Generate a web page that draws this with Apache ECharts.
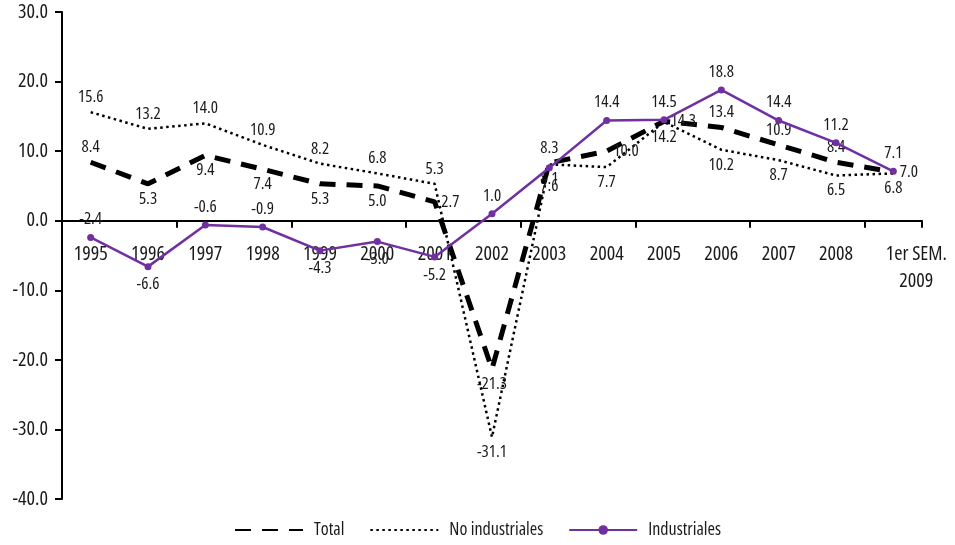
<!DOCTYPE html>
<html>
<head>
<meta charset="utf-8">
<script src="https://cdn.jsdelivr.net/npm/echarts@6/dist/echarts.min.js"></script>
<style>html,body{margin:0;padding:0;background:#fff}#c{width:955px;height:545px}</style>
</head>
<body>
<div id="c"></div>
<script>
var categories = ['1995','1996','1997','1998','1999','2000','2001','2002','2003','2004','2005','2006','2007','2008','1er SEM.\n2009'];
var total = [8.4, 5.3, 9.4, 7.4, 5.3, 5.0, 2.7, -21.3, 8.3, 10.0, 14.3, 13.4, 10.9, 8.4, 7.0];
var noIndustriales = [15.6, 13.2, 14.0, 10.9, 8.2, 6.8, 5.3, -31.1, 8.1, 7.7, 14.2, 10.2, 8.7, 6.5, 6.8];
var industriales = [-2.4, -6.6, -0.6, -0.9, -4.3, -3.0, -5.2, 1.0, 7.6, 14.4, 14.5, 18.8, 14.4, 11.2, 7.1];
var yTicks = {min: -40, max: 30, interval: 10};

// label placement (style), per point
var totalPos = ['top','bottom','bottom','bottom','bottom','bottom','right','bottom','top','right','right','top','top','top','right'];
var noIndPos = ['top','top','top','top','top','top','top','bottom','bottom','bottom','bottom','bottom','bottom','bottom','bottom'];
var indPos = ['top','bottom','top','top','bottom','bottom','bottom','top','bottom','top','top','top','top','top','top'];

var FONT = "'Open Sans','Roboto Condensed',sans-serif";
var STRETCH = 'condensed';
var TXT = '#1a1a1a';
function build(vals, pos) {
  return vals.map(function (v, i) { return {value: v, label: {position: pos[i]}}; });
}
var labelStyle = {show: true, fontFamily: FONT, fontWeight: STRETCH, fontSize: 17, color: TXT, distance: 6,
  formatter: function (p) { return p.value.toFixed(1); }};

// last category label sits a little to the right in the original
var axisCats = categories.map(function (c, i) {
  return i === categories.length - 1 ? {value: c, textStyle: {padding: [0, 0, 0, 46]}} : c;
});

var GRID = {left: 62, right: 33, top: 12, bottom: 46};
var chart = echarts.init(document.getElementById('c'));
var option = {
  animation: false,
  textStyle: {fontFamily: FONT},
  grid: GRID,
  legend: {
    bottom: 1, left: 'center', itemGap: 25, itemWidth: 68, itemHeight: 12,
    textStyle: {fontFamily: FONT, fontWeight: STRETCH, fontSize: 18, color: TXT, padding: [0, 0, 0, 6]},
    data: ['Total', 'No industriales', 'Industriales']
  },
  xAxis: [{
    type: 'category', data: categories, boundaryGap: true,
    axisLine: {onZero: true, lineStyle: {color: '#000', width: 2}},
    axisTick: {show: true, length: 7, lineStyle: {color: '#000', width: 2}},
    axisLabel: {show: false}
  }, {
    type: 'category', data: axisCats, boundaryGap: true, position: 'bottom', offset: 0,
    axisLine: {show: false, onZero: false},
    axisTick: {show: false},
    axisLabel: {fontFamily: FONT, fontWeight: STRETCH, fontSize: 20, color: TXT, margin: 10, interval: 0, lineHeight: 27}
  }],
  yAxis: {
    type: 'value', min: yTicks.min, max: yTicks.max, interval: yTicks.interval,
    splitLine: {show: false},
    axisLine: {show: true, lineStyle: {color: '#000', width: 2}},
    axisTick: {show: true, length: 7, lineStyle: {color: '#000', width: 2}},
    axisLabel: {fontFamily: FONT, fontWeight: STRETCH, fontSize: 20, color: TXT, margin: 14,
      formatter: function (v) { return v.toFixed(1); }}
  },
  series: [
    {name: 'Total', type: 'line', xAxisIndex: 0, data: build(total, totalPos), symbol: 'circle', symbolSize: 1,
      lineStyle: {color: '#000', width: 5, type: [16, 11]}, itemStyle: {color: 'rgba(0,0,0,0)'},
      label: labelStyle, z: 3},
    {name: 'No industriales', type: 'line', xAxisIndex: 0, data: build(noIndustriales, noIndPos), symbol: 'circle', symbolSize: 1,
      lineStyle: {color: '#000', width: 2.5, type: [2.5, 3.5]}, itemStyle: {color: 'rgba(0,0,0,0)'},
      label: labelStyle, z: 2},
    {name: 'Industriales', type: 'line', xAxisIndex: 0, data: build(industriales, indPos), symbol: 'circle', symbolSize: 7,
      lineStyle: {color: '#7030A0', width: 2.5}, itemStyle: {color: '#7030A0'},
      label: labelStyle, z: 4}
  ]
};
chart.setOption(option);
// move the label axis up to the zero line (library-computed pixel positions)
var zeroY = chart.convertToPixel({yAxisIndex: 0}, 0);
var bottomY = chart.convertToPixel({yAxisIndex: 0}, yTicks.min);
chart.setOption({xAxis: [{}, {offset: -(bottomY - zeroY)}]});
</script>
</body>
</html>
